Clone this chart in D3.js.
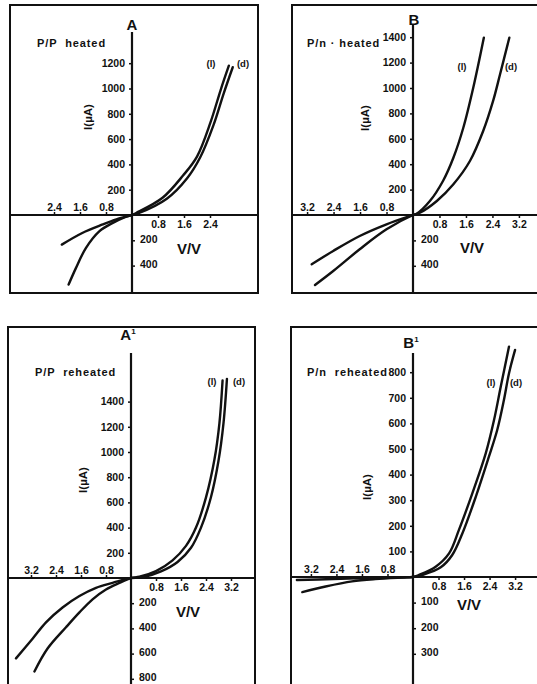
<!DOCTYPE html>
<html>
<head>
<meta charset="utf-8">
<script src="https://cdn.jsdelivr.net/npm/d3@7"></script>
<style>
  body { margin: 0; background: #fff; }
  svg text { font-family: "Liberation Sans", Arial, sans-serif; font-weight: bold; fill: #111; }
</style>
</head>
<body>
<svg id="chart" width="537" height="684"></svg>
<script>
// I-V curves, V in volts, I in microamps. (l) = light, (d) = dark

// tick values (negative side labelled without sign)
const xTicks3 = [-2.4, -1.6, -0.8, 0.8, 1.6, 2.4]
const xTicks4 = [-3.2, -2.4, -1.6, -0.8, 0.8, 1.6, 2.4, 3.2]
const yTicksA = [-400, -200, 200, 400, 600, 800, 1000, 1200]
const yTicksB = [-400, -200, 200, 400, 600, 800, 1000, 1200, 1400]
const yTicksA1 = [-800, -600, -400, -200, 200, 400, 600, 800, 1000, 1200, 1400]
const yTicksB1 = [-300, -200, -100, 100, 200, 300, 400, 500, 600, 700, 800]

// A : P/P heated
const ppHeatedL = [[-1.95,-550],[-1.73,-422],[-1.42,-262],[-1.0,-128],[-0.59,-62],[-0.25,-20],[0,0],
  [0.13,16],[0.94,136],[1.57,312],[2.0,462],[2.42,736],[2.73,990],[2.98,1180]]
const ppHeatedD = [[-2.16,-234],[-1.53,-142],[-0.9,-75],[-0.48,-35],[0,0],
  [0.22,16],[1.07,128],[1.69,288],[2.1,456],[2.51,712],[2.82,960],[3.1,1168]]

// B : P/n heated
const pnHeatedL = [[-2.96,-551],[-2.41,-441],[-1.61,-270],[-0.8,-113],[0,0],
  [0.11,10],[0.51,110],[0.91,270],[1.22,451],[1.52,687],[1.82,1002],[2.14,1396]]
const pnHeatedD = [[-3.06,-388],[-2.41,-283],[-1.61,-165],[-0.8,-73],[0,0],
  [0.21,18],[0.72,110],[1.22,242],[1.72,425],[2.12,661],[2.42,898],[2.63,1108],[2.91,1396]]

// A1 : P/P reheated
const ppReheatedL = [[-3.09,-742],[-2.67,-560],[-2.08,-391],[-1.65,-273],[-1.23,-169],[-0.8,-91],[-0.37,-39],[0,0],
  [0.27,10],[0.8,55],[1.33,140],[1.76,255],[2.08,400],[2.4,640],[2.67,940],[2.83,1230],[2.93,1567]]
const ppReheatedD = [[-3.68,-638],[-3.15,-482],[-2.72,-352],[-2.19,-234],[-1.65,-143],[-1.12,-78],[-0.59,-39],[0,0],
  [0.37,5],[0.96,52],[1.49,127],[1.92,240],[2.24,400],[2.56,643],[2.8,930],[2.96,1229],[3.07,1580]]

// B1 : P/n reheated
const pnReheatedL = [[-3.47,-59],[-2.74,-37],[-1.91,-17],[-1.18,-8],[-0.34,-2],[0,0],
  [0.19,8],[0.71,40],[1.13,92],[1.44,184],[1.86,327],[2.28,483],[2.54,613],[2.75,743],[3.01,900]]
const pnReheatedD = [[-3.64,-12],[-2.5,-8],[-1.3,-3],[0,0],
  [0.29,8],[0.87,38],[1.23,86],[1.55,171],[1.97,314],[2.38,470],[2.64,574],[2.85,691],[3.01,796],[3.2,887]]

const panels = [
  { title: 'A', sup: '', label: 'P/P  heated', ox: 132, oy: 215, kx: 32.5, ky: 0.1265,
    frame: [10, 5, 258, 293], yTop: 32, xTicks: xTicks3, yTicks: yTicksA,
    curves: [ppHeatedL, ppHeatedD], titleAt: [132, 30], labelAt: [37, 47],
    iAt: [88, 117], vAt: [189, 254], lAt: [211, 67], dAt: [243, 67] },
  { title: 'B', sup: '', label: 'P/n · heated', ox: 413, oy: 215, kx: 33.1, ky: 0.127,
    frame: [292, 5, 545, 293], yTop: 25, xTicks: xTicks4, yTicks: yTicksB,
    curves: [pnHeatedL, pnHeatedD], titleAt: [414, 25], labelAt: [307, 47],
    iAt: [365, 118], vAt: [472, 253], lAt: [462, 70], dAt: [511, 70] },
  { title: 'A', sup: '1', label: 'P/P  reheated', ox: 131, oy: 578, kx: 31.25, ky: 0.126,
    frame: [8, 327, 255, 700], yTop: 353, xTicks: xTicks4, yTicks: yTicksA1,
    curves: [ppReheatedL, ppReheatedD], titleAt: [128, 340], labelAt: [35, 376],
    iAt: [83, 480], vAt: [188, 617], lAt: [212, 385], dAt: [239, 385] },
  { title: 'B', sup: '1', label: 'P/n  reheated', ox: 413, oy: 577, kx: 31.9, ky: 0.256,
    frame: [291, 327, 545, 700], yTop: 353, xTicks: xTicks4, yTicks: yTicksB1,
    curves: [pnReheatedL, pnReheatedD], titleAt: [411, 348], labelAt: [307, 376],
    iAt: [367, 487], vAt: [469, 610], lAt: [491, 386], dAt: [516, 386] }
]

const svg = d3.select('#chart')
const ink = '#111'

panels.forEach(p => {
  let g = svg.append('g')
  let [fx0, fy0, fx1, fy1] = p.frame

  let x = d3.scaleLinear().domain([0, 1]).range([p.ox, p.ox + p.kx])
  let y = d3.scaleLinear().domain([0, 1]).range([p.oy, p.oy - p.ky])

  // frame
  g.append('rect')
    .attr('x', fx0).attr('y', fy0)
    .attr('width', fx1 - fx0).attr('height', fy1 - fy0)
    .attr('fill', 'none').attr('stroke', ink).attr('stroke-width', 2)

  // axes lines
  g.append('line').attr('x1', fx0).attr('x2', fx1).attr('y1', p.oy).attr('y2', p.oy)
    .attr('stroke', ink).attr('stroke-width', 2)
  g.append('line').attr('x1', p.ox).attr('x2', p.ox).attr('y1', p.yTop).attr('y2', fy1)
    .attr('stroke', ink).attr('stroke-width', 2.2)

  let fmtV = d => d3.format('.1f')(Math.abs(d))
  let fmtI = d => Math.abs(d)

  // x ticks: positive below, negative above
  g.append('g').attr('transform', `translate(0,${p.oy})`)
    .call(d3.axisBottom(x).tickValues(p.xTicks.filter(d => d > 0)).tickSize(3).tickPadding(3).tickFormat(fmtV))
  g.append('g').attr('transform', `translate(0,${p.oy})`)
    .call(d3.axisTop(x).tickValues(p.xTicks.filter(d => d < 0)).tickSize(3).tickPadding(1).tickFormat(fmtV))
  // y ticks: positive left, negative right
  g.append('g').attr('transform', `translate(${p.ox},0)`)
    .call(d3.axisLeft(y).tickValues(p.yTicks.filter(d => d > 0)).tickSize(3).tickPadding(4).tickFormat(fmtI))
  g.append('g').attr('class', 'neg-y').attr('transform', `translate(${p.ox},0)`)
    .call(d3.axisRight(y).tickValues(p.yTicks.filter(d => d < 0)).tickSize(3).tickPadding(5).tickFormat(fmtI))

  g.selectAll('.domain').remove()
  g.selectAll('.tick line').attr('stroke', ink).attr('stroke-width', 1.5)
  g.selectAll('.tick text').attr('font-size', 10.5)
  g.selectAll('.neg-y .tick text').attr('dy', '0.2em')

  // curves
  let line = d3.line().x(d => x(d[0])).y(d => y(d[1])).curve(d3.curveCatmullRom.alpha(0.5))
  g.selectAll('path.curve')
    .data(p.curves)
    .enter()
    .append('path')
    .attr('class', 'curve')
    .attr('d', line)
    .attr('fill', 'none')
    .attr('stroke', ink)
    .attr('stroke-width', 2.4)
    .attr('stroke-linecap', 'round')

  // texts
  let t = g.append('text').attr('x', p.titleAt[0]).attr('y', p.titleAt[1])
    .attr('text-anchor', 'middle').attr('font-size', 15).text(p.title)
  if (p.sup) t.append('tspan').attr('dy', -6).attr('font-size', 8).text(p.sup)

  g.append('text').attr('x', p.labelAt[0]).attr('y', p.labelAt[1])
    .attr('font-size', 11).attr('letter-spacing', 0.9)
    .style('white-space', 'pre').text(p.label)

  g.append('text').attr('transform', `translate(${p.iAt[0]},${p.iAt[1]}) rotate(-90)`)
    .attr('text-anchor', 'middle').attr('dy', '0.35em').attr('font-size', 11.5).text('I(µA)')

  g.append('text').attr('x', p.vAt[0]).attr('y', p.vAt[1])
    .attr('text-anchor', 'middle').attr('font-size', 15).text('V/V')

  g.append('text').attr('x', p.lAt[0]).attr('y', p.lAt[1])
    .attr('text-anchor', 'middle').attr('font-size', 9.5).text('(l)')
  g.append('text').attr('x', p.dAt[0]).attr('y', p.dAt[1])
    .attr('text-anchor', 'middle').attr('font-size', 9.5).text('(d)')
})
</script>
</body>
</html>
